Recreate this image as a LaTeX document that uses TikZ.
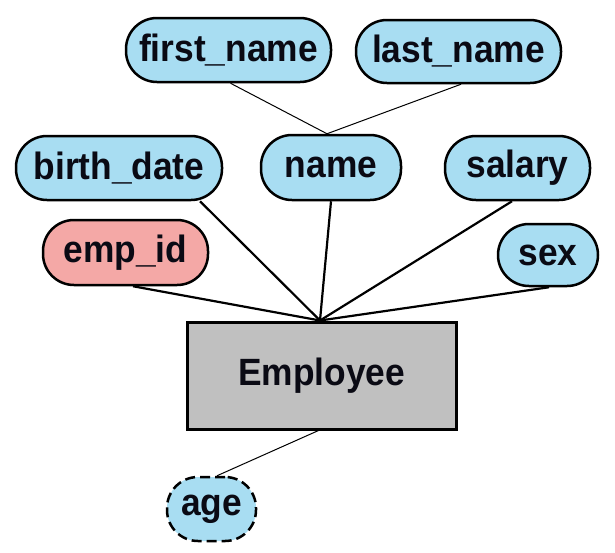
\documentclass[tikz,border=0pt]{standalone}
\usepackage{fontspec}
\setmainfont{Liberation Sans}
\newfontfamily\lblfont[FakeStretch=0.93]{Liberation Sans Bold}
\definecolor{attrblue}{HTML}{A8DDF2}
\definecolor{keypink}{HTML}{F4A8A6}
\definecolor{entgray}{HTML}{C0C0C0}
\definecolor{inkcol}{HTML}{0A0A14}
\tikzset{
  attr/.style={draw=black, line width=2.5pt, fill=attrblue, rounded corners=31pt,
    inner sep=0pt, text=inkcol, font=\lblfont\fontsize{38}{40}\selectfont},
  keyattr/.style={attr, fill=keypink},
  derived/.style={attr, dash pattern=on 10pt off 5pt},
  entity/.style={draw=black, line width=3pt, fill=entgray, inner sep=0pt,
    text=inkcol, font=\lblfont\fontsize{38}{40}\selectfont},
  thinlink/.style={line width=1pt},
  thicklink/.style={line width=2.2pt},
}
\begin{document}
\begin{tikzpicture}[x=1pt, y=-1pt]
\useasboundingbox (0,0) rectangle (615,552);
\node[attr, minimum width=205pt, minimum height=64pt] (fn) at (228.5,50) {first\_name};
\node[attr, minimum width=205pt, minimum height=63pt] (ln) at (458.5,51.5) {last\_name};
\node[attr, minimum width=206pt, minimum height=64pt] (bd) at (119,168) {birth\_date};
\node[attr, minimum width=140pt, minimum height=65pt] (nm) at (331,167.5) {name};
\node[attr, minimum width=145pt, minimum height=64pt] (sal) at (517.5,168) {salary};
\node[keyattr, minimum width=165pt, minimum height=65pt] (eid) at (125.5,252.5) {emp\_id};
\node[attr, minimum width=100pt, minimum height=62pt] (sx) at (548,255) {sex};
\node[entity, minimum width=269pt, minimum height=107pt] (emp) at (321.5,375.5) {Employee};
\node[derived, minimum width=89pt, minimum height=64pt] (age) at (211.5,509) {age};

\draw[thinlink] ([xshift=2pt]fn.south) -- ([xshift=-4pt]nm.north);
\draw[thinlink] ([xshift=2.5pt]ln.south) -- ([xshift=-4pt]nm.north);
\draw[thicklink] ([xshift=81pt]bd.south) -- ([xshift=-1.5pt]emp.north);
\draw[thicklink] (nm.south) -- ([xshift=-1.5pt]emp.north);
\draw[thicklink] ([xshift=-5.5pt]sal.south) -- ([xshift=-1.5pt]emp.north);
\draw[thicklink] ([xshift=7.5pt]eid.south) -- ([xshift=-1.5pt]emp.north);
\draw[thicklink] ([xshift=1pt]sx.south) -- ([xshift=-1.5pt]emp.north);
\draw[thinlink] ([xshift=-3pt]emp.south) -- ([xshift=5.5pt]age.north);
\end{tikzpicture}
\end{document}
